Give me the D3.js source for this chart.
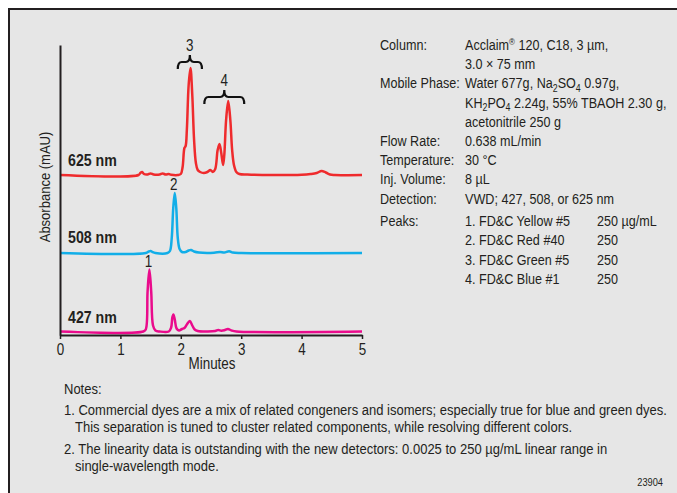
<!DOCTYPE html>
<html>
<head>
<meta charset="utf-8">
<script src="https://cdn.jsdelivr.net/npm/d3@7"></script>
<style>
  body { margin: 0; background: #fff; }
  text { font-family: 'Liberation Sans', Arial, sans-serif; fill: #231f20; }
</style>
</head>
<body>
<svg id="chart" width="677" height="493"></svg>
<script>
// chromatogram traces: [minutes, signal]
const trace625 = [[0,0],[1.30,0],[1.33,2],[1.36,3],[1.39,1],[1.45,0.5],[1.50,1.5],[1.55,0.5],[1.65,0.5],[1.70,1.5],[1.75,0.5],[1.80,1],[1.84,0.3],[1.95,0],[2.00,1],[2.03,8],[2.06,27],[2.08,29],[2.10,45],[2.13,90],[2.16,107],[2.19,80],[2.22,35],[2.25,12],[2.28,5],[2.32,3],[2.38,2],[2.44,3],[2.49,5],[2.53,3],[2.57,6],[2.61,25],[2.64,31],[2.67,22],[2.70,10],[2.72,20],[2.75,55],[2.785,74],[2.82,55],[2.85,25],[2.88,10],[2.92,3],[2.97,1],[3.1,0.5],[3.5,0],[4.0,0.3],[4.15,1],[4.25,2],[4.33,4],[4.40,2.5],[4.47,0.5],[4.55,0],[5,0]]
const trace508 = [[0,0],[1.42,0],[1.47,1.5],[1.50,2],[1.53,1],[1.58,0],[1.78,0],[1.82,2],[1.85,15],[1.875,45],[1.90,60],[1.925,45],[1.95,15],[1.98,4],[2.02,1],[2.08,1],[2.13,2.5],[2.17,3],[2.22,1.5],[2.30,0.5],[2.55,0.3],[2.65,1],[2.72,0.5],[2.80,1.8],[2.86,0.5],[3.0,0],[5,0]]
const trace427 = [[0,0],[1.38,0],[1.42,2],[1.45,40],[1.48,62],[1.51,40],[1.54,6],[1.58,1],[1.65,0],[1.80,0],[1.84,4],[1.86,14],[1.877,17],[1.90,12],[1.93,3],[1.97,1],[2.02,2.5],[2.06,3.5],[2.10,7],[2.15,10.5],[2.19,6],[2.23,2],[2.28,0.5],[2.45,0],[2.57,0.5],[2.62,1.5],[2.67,0.8],[2.72,1.2],[2.78,2.5],[2.84,1],[2.92,0],[5,0]]

const wavelengths = ['625 nm', '508 nm', '427 nm']
const xTicks = [0, 1, 2, 3, 4, 5]

// peak numbers: [label, minutes]
const peakMarks = [['1', 1.48], ['2', 1.90]]
// bracketed peak groups: [label, start, end]
const peakGroups = [['3', 1.95, 2.35], ['4', 2.39, 3.05]]

const condLabels = ['Column:', '', 'Mobile Phase:', '', '', 'Flow Rate:', 'Temperature:', 'Inj. Volume:', 'Detection:']
const condValues = [
  ['Acclaim', {sup:'®'}, ' 120, C18, 3 µm,'],
  ['3.0 × 75 mm'],
  ['Water 677g, Na', {sub:'2'}, 'SO', {sub:'4'}, ' 0.97g,'],
  ['KH', {sub:'2'}, 'PO', {sub:'4'}, ' 2.24g, 55% TBAOH 2.30 g,'],
  ['acetonitrile 250 g'],
  ['0.638 mL/min'],
  ['30 °C'],
  ['8 µL'],
  ['VWD; 427, 508, or 625 nm']
]
const peakNames = ['1. FD&C Yellow #5', '2. FD&C Red #40', '3. FD&C Green #5', '4. FD&C Blue #1']
const peakConc = ['250 µg/mL', '250', '250', '250']

const notes = [
  'Notes:',
  '1. Commercial dyes are a mix of related congeners and isomers; especially true for blue and green dyes.',
  '   This separation is tuned to cluster related components, while resolving different colors.',
  '2. The linearity data is outstanding with the new detectors: 0.0025 to 250 µg/mL linear range in',
  '   single-wavelength mode.'
]

const svg = d3.select('#chart')
const SQ = 0.84   // horizontal squeeze to mimic the condensed face

// text helper: condensed look through a horizontal scale
function label(px, py, size, anchor) {
  return svg.append('text')
    .attr('transform', `translate(${px},${py}) scale(${SQ},1)`)
    .attr('text-anchor', anchor || 'start')
    .style('font-size', size + 'px')
}

// panel
svg.append('rect').attr('x', 8).attr('y', 8).attr('width', 680).attr('height', 500).attr('fill', '#e6e6e6')
svg.append('path').attr('d', 'M9,493 L9,9 L677,9').attr('fill', 'none').attr('stroke', '#231f20').attr('stroke-width', 2)

const x = d3.scaleLinear().domain([0, 5]).range([60, 362])
const y = d3.scaleLinear().domain([0, 290]).range([335, 45])

const traces = [
  {data: trace625, offset: 160, color: '#ef2b2d', labelY: 166},
  {data: trace508, offset: 82, color: '#12aee8', labelY: 243},
  {data: trace427, offset: 3.5, color: '#ea0b8c', labelY: 323}
]

const line = d3.line().curve(d3.curveCatmullRom.alpha(0.5))

traces.forEach((tr, i) => {
  svg.append('path')
    .attr('d', line(tr.data.map(d => [x(d[0]), y(d[1] + tr.offset)])))
    .attr('fill', 'none')
    .attr('stroke', tr.color)
    .attr('stroke-width', 2.5)
    .attr('stroke-linejoin', 'round')
  svg.append('text')
    .attr('transform', `translate(68,${tr.labelY}) scale(0.86,1)`)
    .style('font-weight', 'bold').style('font-size', '16.5px')
    .text(wavelengths[i])
})

// axes
svg.append('g')
  .attr('transform', 'translate(0,335)')
  .call(d3.axisBottom(x).tickValues(xTicks).tickFormat(d3.format('d')).tickSize(4).tickSizeOuter(0).tickPadding(5))
  .call(g => g.select('.domain').attr('stroke', '#231f20').attr('stroke-width', 2))
  .call(g => g.selectAll('.tick line').attr('stroke', '#231f20').attr('stroke-width', 1.5))
  .call(g => g.selectAll('.tick text').attr('fill', '#231f20').style('font-size', '16px')
    .style('font-family', "'Liberation Sans', Arial, sans-serif").attr('transform', `scale(${SQ},1)`))

svg.append('g')
  .attr('transform', 'translate(60,0)')
  .call(d3.axisLeft(y).tickValues([]).tickSizeOuter(0))
  .call(g => g.select('.domain').attr('stroke', '#231f20').attr('stroke-width', 2))

label(212, 369, 16, 'middle').text('Minutes')

svg.append('text')
  .attr('transform', `translate(50,187) rotate(-90) scale(${SQ},1)`)
  .attr('text-anchor', 'middle').style('font-size', '15.5px')
  .text('Absorbance (mAU)')

// peak numbers
const peakTrace = {'1': traces[2], '2': traces[1]}
peakMarks.forEach(([lab, t]) => {
  const tr = peakTrace[lab]
  const top = d3.max(tr.data, d => d[1]) + tr.offset
  label(x(t) - 1, y(top) - 3, 16, 'middle').text(lab)
})

// braces over peak groups 3 and 4
const braceLevel = [62, 97]
peakGroups.forEach(([lab, t0, t1], i) => {
  const x0 = x(t0), x1 = x(t1), xm = (x0 + x1) / 2, yy = braceLevel[i]
  const r = 4, d = 7, tip = 7
  const p = `M${x0},${yy + d} Q${x0},${yy} ${x0 + r},${yy} L${xm - r},${yy} Q${xm},${yy} ${xm},${yy - tip} ` +
            `Q${xm},${yy} ${xm + r},${yy} L${x1 - r},${yy} Q${x1},${yy} ${x1},${yy + d}`
  svg.append('path').attr('d', p).attr('fill', 'none').attr('stroke', '#111').attr('stroke-width', 2.2)
  label(xm, yy - tip - 4, 16, 'middle').text(lab)
})

// conditions block
const condSize = 15
function richText(sel, parts) {
  parts.forEach(p => {
    if (typeof p === 'string') sel.append('tspan').text(p)
    else if (p.sub) sel.append('tspan').style('baseline-shift', '-3px').style('font-size', '10.5px').text(p.sub)
    else if (p.sup) sel.append('tspan').style('baseline-shift', '5px').style('font-size', '9.5px').text(p.sup)
  })
}
condLabels.forEach((lab, i) => {
  const yy = 50 + i * 19.2
  if (lab) label(380, yy, condSize).text(lab)
  richText(label(465, yy, condSize), condValues[i])
})
label(380, 226, condSize).text('Peaks:')
peakNames.forEach((nm, i) => {
  const yy = 226 + i * 19.3
  label(465, yy, condSize).text(nm)
  label(597, yy, condSize).text(peakConc[i])
})

// notes
const noteY = [394, 415, 432, 454, 471]
notes.forEach((n, i) => {
  label(n.startsWith('   ') ? 75 : 64, noteY[i], 15.5).text(n.trim())
})
label(663, 486, 11, 'end').text('23904')
</script>
</body>
</html>
